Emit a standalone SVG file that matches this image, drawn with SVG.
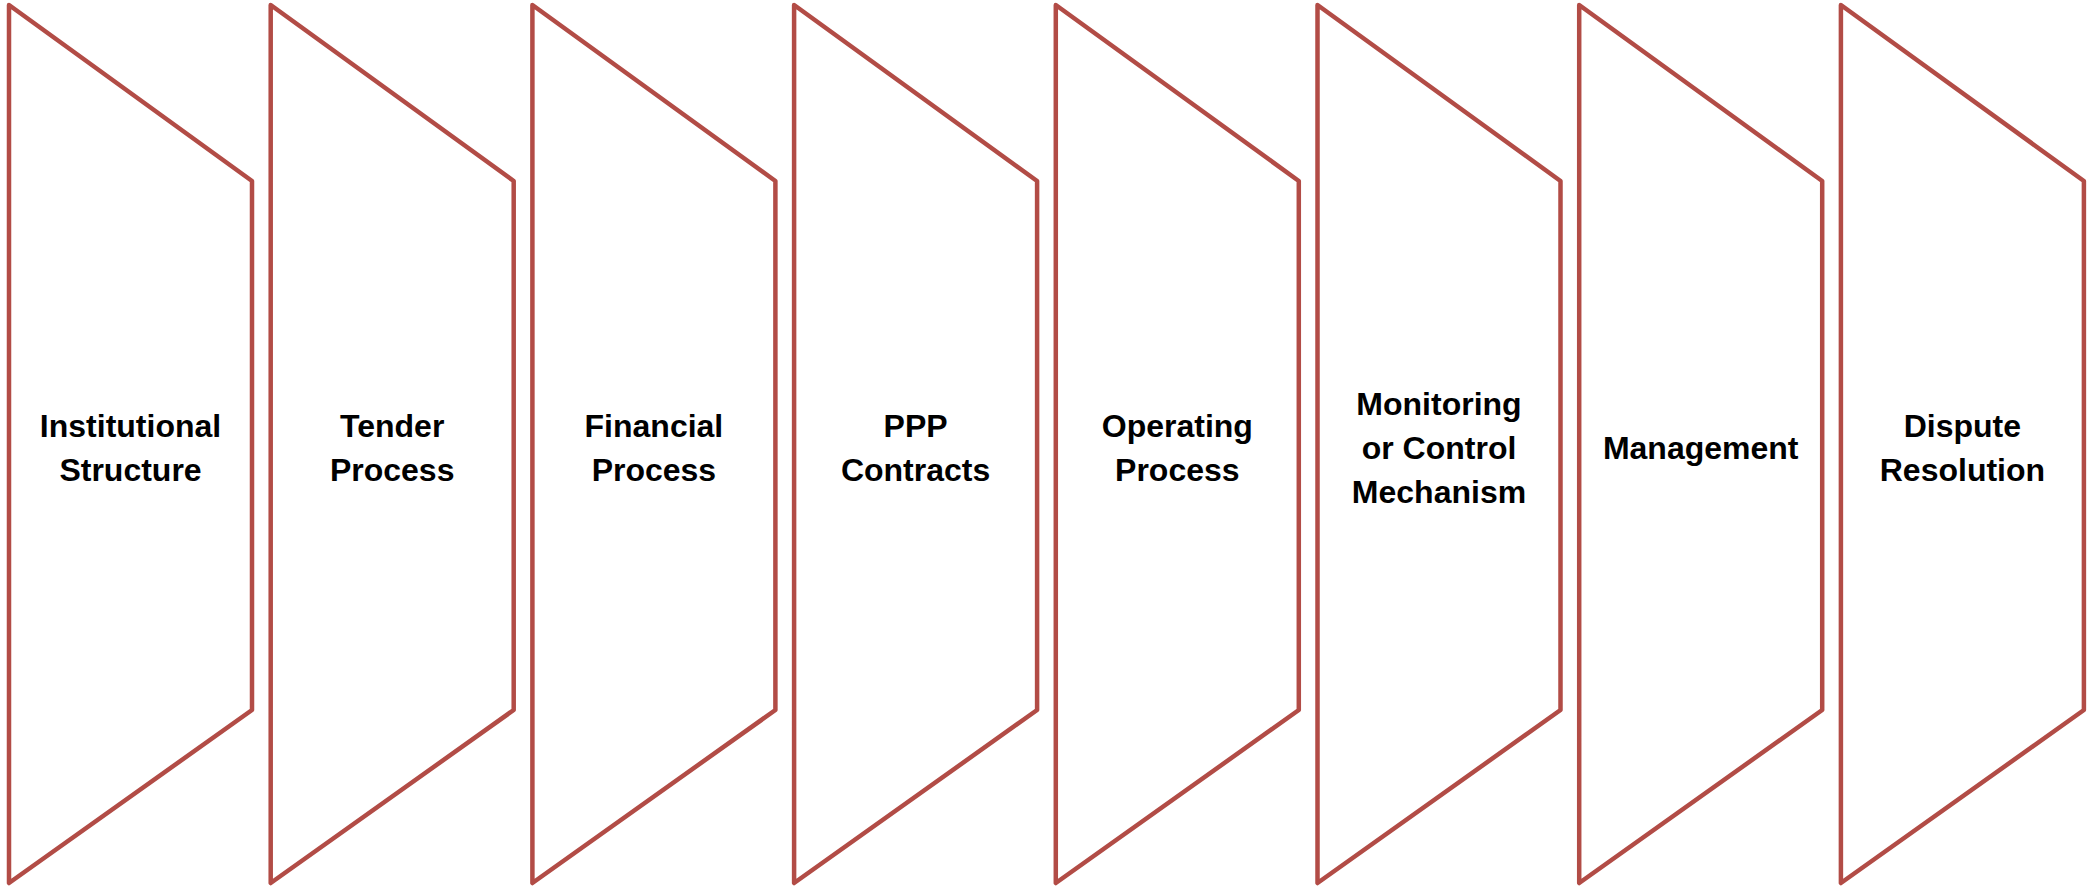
<svg xmlns="http://www.w3.org/2000/svg" width="2087" height="889" viewBox="0 0 2087 889">
<style>
.s{fill:#fff;stroke:#B24C46;stroke-width:4.5;stroke-linejoin:round}
.t{font-family:"Liberation Sans",Arial,sans-serif;font-weight:bold;font-size:32px;fill:#000;text-anchor:middle}
</style>
<rect width="2087" height="889" fill="#fff"/>
<g id="node1"><polygon class="s" points="9,5 252,181 252,710 9,883"/><text class="t" x="130.5" y="437">Institutional</text><text class="t" x="130.5" y="481">Structure</text></g>
<g id="node2"><polygon class="s" points="270.7,5 513.7,181 513.7,710 270.7,883"/><text class="t" x="392.2" y="437">Tender</text><text class="t" x="392.2" y="481">Process</text></g>
<g id="node3"><polygon class="s" points="532.4,5 775.4,181 775.4,710 532.4,883"/><text class="t" x="653.9" y="437">Financial</text><text class="t" x="653.9" y="481">Process</text></g>
<g id="node4"><polygon class="s" points="794.1,5 1037.1,181 1037.1,710 794.1,883"/><text class="t" x="915.6" y="437">PPP</text><text class="t" x="915.6" y="481">Contracts</text></g>
<g id="node5"><polygon class="s" points="1055.8,5 1298.8,181 1298.8,710 1055.8,883"/><text class="t" x="1177.3" y="437">Operating</text><text class="t" x="1177.3" y="481">Process</text></g>
<g id="node6"><polygon class="s" points="1317.5,5 1560.5,181 1560.5,710 1317.5,883"/><text class="t" x="1439" y="415">Monitoring</text><text class="t" x="1439" y="459">or Control</text><text class="t" x="1439" y="503">Mechanism</text></g>
<g id="node7"><polygon class="s" points="1579.2,5 1822.2,181 1822.2,710 1579.2,883"/><text class="t" x="1700.7" y="459">Management</text></g>
<g id="node8"><polygon class="s" points="1840.9,5 2083.9,181 2083.9,710 1840.9,883"/><text class="t" x="1962.4" y="437">Dispute</text><text class="t" x="1962.4" y="481">Resolution</text></g>
<g id="connectors"></g>
</svg>
